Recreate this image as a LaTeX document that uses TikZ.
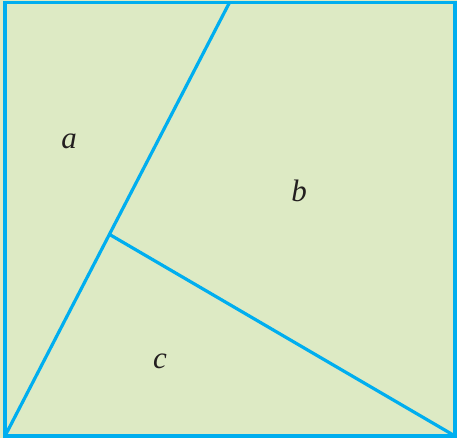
\documentclass[tikz,border=0pt]{standalone}
\usepackage{fontspec}
\setmainfont{Liberation Serif}
\definecolor{fillgreen}{RGB}{221,234,196}
\definecolor{linecyan}{RGB}{0,174,239}
\definecolor{textdark}{RGB}{35,31,32}
\begin{document}
\begin{tikzpicture}[x=1pt,y=-1pt,
  edge/.style={draw=linecyan,line width=3.2pt,line cap=round,line join=miter},
  lbl/.style={anchor=base,inner sep=0pt,text=textdark,font=\fontsize{31}{31}\selectfont\itshape}]
\useasboundingbox (0,0) rectangle (457,438);
\fill[fillgreen] (0,0) rectangle (457,438);
\coordinate (tl) at (5,2.5);
\coordinate (tr) at (455,2.5);
\coordinate (br) at (455,436);
\coordinate (bl) at (5,436);
\coordinate (top) at (229.5,2.5);
\coordinate (j) at (110.5,235);
\draw[edge] (tl) -- (tr) -- (br) -- (bl) -- cycle;
\draw[edge] (bl) -- (top);
\draw[edge] (j) -- (br);
\node[lbl] (a) at (69,149) {a};
\node[lbl] (b) at (299,201.5) {b};
\node[lbl] (c) at (160,368) {c};
\end{tikzpicture}
\end{document}
